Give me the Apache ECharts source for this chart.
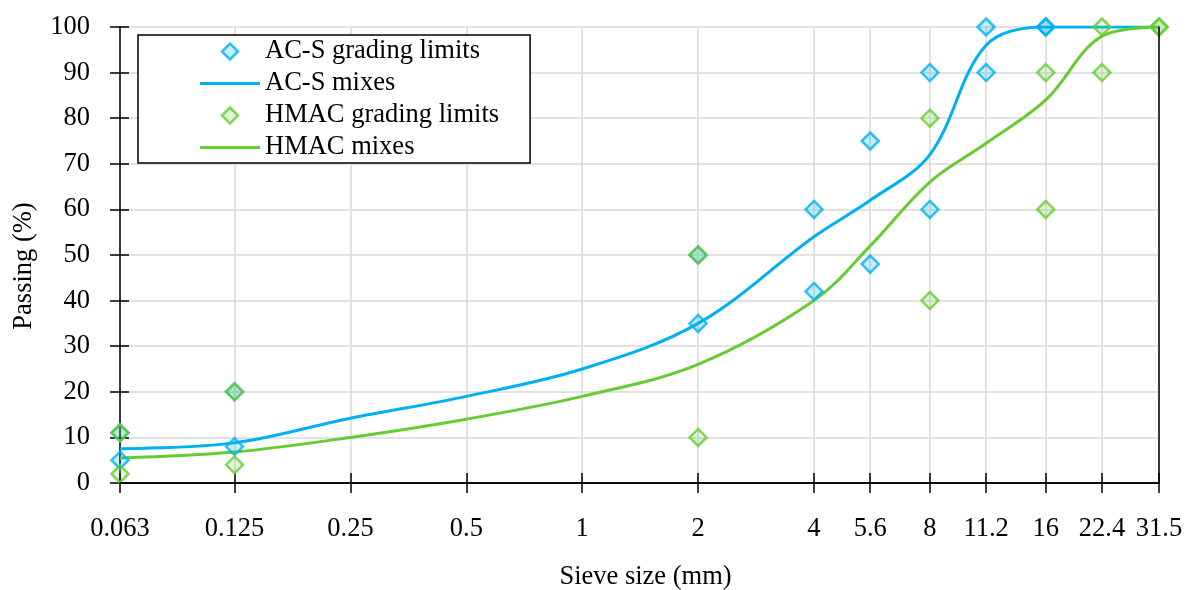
<!DOCTYPE html>
<html><head><meta charset="utf-8">
<script src="https://cdn.jsdelivr.net/npm/echarts@6/dist/echarts.min.js"></script>
<style>html,body{margin:0;padding:0;background:#fff}#c{width:1186px;height:590px}</style>
</head><body><div id="c"></div>
<script>
const sieveTicks = [0.063, 0.125, 0.25, 0.5, 1, 2, 4, 5.6, 8, 11.2, 16, 22.4, 31.5];

const acsLimitSizes = [0.063, 0.125, 2, 4, 5.6, 8, 11.2, 16];
const acsLower = [5, 8, 35, 42, 48, 60, 90, 100];
const acsUpper = [11, 20, 50, 60, 75, 90, 100, 100];

const hmacLimitSizes = [0.063, 0.125, 2, 8, 16, 22.4, 31.5];
const hmacLower = [2, 4, 10, 40, 60, 90, 100];
const hmacUpper = [11, 20, 50, 80, 90, 100, 100];

const mixSizes = [0.063, 0.125, 0.25, 0.5, 1, 2, 4, 5.6, 8, 11.2, 16, 22.4, 31.5];
const acsMix = [7.5, 8.8, 14.2, 19, 25, 35, 54, 62, 72, 96, 100, 100, 100];
const hmacMix = [5.5, 6.8, 10, 14, 19, 26, 40, 52, 66, 74.5, 84, 98, 100];

const BLUE = '#00B0F0', GREEN = '#66CC33';
const BLUE_FILL = 'rgba(0,176,240,0.28)', GREEN_FILL = 'rgba(102,204,51,0.25)';
const FONT = 'Liberation Serif';
const FS = 26.5;
const pairs = (xs, ys) => xs.map((x, i) => [x, ys[i]]);
const limitPts = (xs, lo, hi) => pairs(xs, lo).concat(pairs(xs, hi));

const DIAMOND = 'path://M5,0 L10,5 L5,10 L0,5 Z';
const LINEICON = 'path://M0,0 L60,0 L60,3 L0,3 Z';

const chart = echarts.init(document.getElementById('c'), null, {renderer: 'canvas'});
const blk = { color: '#000', width: 1.5 };
const xBase = { type: 'log', logBase: 2, min: 0.063, max: 31.5, gridIndex: 0 };
const yBase = { type: 'value', min: 0, max: 100, interval: 10, gridIndex: 0 };
const hidden = { axisLabel: { show: false }, splitLine: { show: false } };
chart.setOption({
  animation: false,
  backgroundColor: '#fff',
  textStyle: { fontFamily: FONT },
  grid: { left: 120, right: 27, top: 27, bottom: 107, containLabel: false, outerBoundsMode: 'none' },
  legend: {
    orient: 'vertical', left: 138, top: 35,
    padding: [3, 31, 2, 62],
    itemWidth: 60, itemHeight: 16, itemGap: 5,
    symbolKeepAspect: true,
    backgroundColor: '#fff', borderColor: '#000', borderWidth: 1.5,
    textStyle: { fontFamily: FONT, fontSize: FS, color: '#000', lineHeight: 24 },
    data: [
      { name: 'AC-S grading limits', icon: DIAMOND, itemStyle: { color: BLUE_FILL, borderColor: BLUE, borderWidth: 2.5 } },
      { name: 'AC-S mixes', icon: LINEICON, itemStyle: { color: BLUE, borderWidth: 0 } },
      { name: 'HMAC grading limits', icon: DIAMOND, itemStyle: { color: GREEN_FILL, borderColor: GREEN, borderWidth: 2.5 } },
      { name: 'HMAC mixes', icon: LINEICON, itemStyle: { color: GREEN, borderWidth: 0 } }
    ]
  },
  xAxis: [
    Object.assign({}, xBase, {
      position: 'bottom',
      name: 'Sieve size (mm)', nameLocation: 'middle', nameGap: 81,
      nameTextStyle: { fontFamily: FONT, fontSize: FS, color: '#000', padding: [0, 0, 0, 12] },
      axisLine: { show: true, lineStyle: blk },
      axisTick: { show: true, inside: false, length: 10, customValues: sieveTicks, lineStyle: blk },
      axisLabel: { show: true, margin: 33, customValues: sieveTicks, fontFamily: FONT, fontSize: FS, color: '#000', formatter: v => String(v) },
      splitLine: { show: true, lineStyle: { color: '#d9d9d9', width: 1.5 } }
    }),
    Object.assign({}, xBase, hidden, {
      position: 'bottom',
      axisLine: { show: false },
      axisTick: { show: true, inside: true, length: 10, customValues: sieveTicks, lineStyle: blk }
    }),
    Object.assign({}, xBase, hidden, {
      position: 'top', z: 10,
      axisLine: { show: true, lineStyle: blk },
      axisTick: { show: false }
    })
  ],
  yAxis: [
    Object.assign({}, yBase, {
      position: 'left',
      name: 'Passing (%)', nameLocation: 'middle', nameGap: 82,
      nameTextStyle: { fontFamily: FONT, fontSize: FS, color: '#000', padding: [0, 22, 0, 0] },
      axisLine: { show: true, lineStyle: blk },
      axisTick: { show: true, inside: false, length: 10, lineStyle: blk },
      axisLabel: { margin: 30, fontFamily: FONT, fontSize: FS, color: '#000' },
      splitLine: { show: true, lineStyle: { color: '#d9d9d9', width: 1.5 } }
    }),
    Object.assign({}, yBase, hidden, {
      position: 'left',
      axisLine: { show: false },
      axisTick: { show: true, inside: true, length: 9, lineStyle: blk }
    }),
    Object.assign({}, yBase, hidden, {
      position: 'right', z: 10,
      axisLine: { show: true, lineStyle: blk },
      axisTick: { show: false }
    })
  ],
  series: [
    {
      name: 'AC-S grading limits', type: 'scatter', symbol: 'diamond', symbolSize: 17,
      itemStyle: { color: BLUE_FILL, borderColor: BLUE, borderWidth: 2.5 },
      data: limitPts(acsLimitSizes, acsLower, acsUpper), z: 3
    },
    {
      name: 'AC-S mixes', type: 'line', smooth: 0.35, symbol: 'none',
      lineStyle: { color: BLUE, width: 3 }, itemStyle: { color: BLUE },
      data: pairs(mixSizes, acsMix), z: 2
    },
    {
      name: 'HMAC grading limits', type: 'scatter', symbol: 'diamond', symbolSize: 17,
      itemStyle: { color: GREEN_FILL, borderColor: GREEN, borderWidth: 2.5 },
      data: limitPts(hmacLimitSizes, hmacLower, hmacUpper), z: 4
    },
    {
      name: 'HMAC mixes', type: 'line', smooth: 0.35, symbol: 'none',
      lineStyle: { color: GREEN, width: 3 }, itemStyle: { color: GREEN },
      data: pairs(mixSizes, hmacMix), z: 2
    }
  ]
});
</script></body></html>
